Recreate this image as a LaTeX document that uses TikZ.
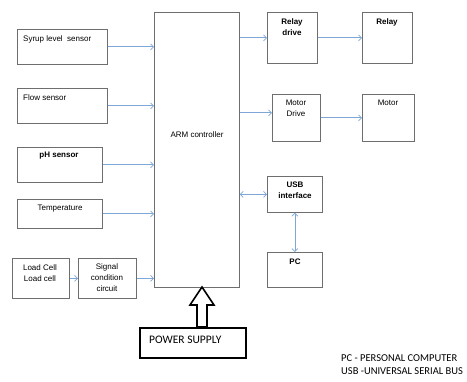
\documentclass[tikz,border=0pt]{standalone}
\usepackage{fontspec}
\setmainfont{Liberation Sans}
\newfontfamily\calfont{Carlito}
\usetikzlibrary{arrows.meta}

\definecolor{boxgray}{HTML}{6E6E6E}
\definecolor{arrowblue}{HTML}{7EA6D6}

\begin{document}
\begin{tikzpicture}[
        x=1pt, y=-1pt,
        box/.style={rectangle, draw=boxgray, line width=0.7pt, anchor=north west, inner sep=0pt},
        txt/.style={font=\fontsize{8}{11}\selectfont, inner sep=0pt, align=center},
        btxt/.style={txt, font=\fontsize{8}{11}\selectfont\bfseries},
        arrow/.style={-{Straight Barb[length=3pt, width=6pt]}, draw=arrowblue, line width=0.7pt},
        twoway/.style={{Straight Barb[length=3pt, width=6pt]}-{Straight Barb[length=3pt, width=6pt]}, draw=arrowblue, line width=0.7pt},
        legend/.style={font=\calfont\fontsize{10.5}{12}\selectfont, inner sep=0pt, anchor=west}
    ]
    \useasboundingbox (0,0) rectangle (467,382);

    % Nodes
    \node[box, minimum width=90pt, minimum height=35pt] (syrup) at (17,29) {};
    \node[box, minimum width=90pt, minimum height=35pt] (flow) at (17,88) {};
    \node[box, minimum width=85pt, minimum height=35pt] (ph) at (17,147) {};
    \node[box, minimum width=85pt, minimum height=29pt] (temp) at (17,199) {};
    \node[box, minimum width=57pt, minimum height=40pt] (load) at (12,258) {};
    \node[box, minimum width=58pt, minimum height=40pt] (signal) at (78,258) {};
    \node[box, minimum width=85pt, minimum height=275pt] (arm) at (154,12) {};
    \node[box, draw=black, line width=1.6pt, minimum width=106pt, minimum height=30pt] (power) at (139,327) {};

    \node[box, minimum width=50pt, minimum height=51pt] (relaydrive) at (267,12) {};
    \node[box, minimum width=50pt, minimum height=51pt] (relay) at (362,12) {};
    \node[box, minimum width=48pt, minimum height=47pt] (motordrive) at (272,94) {};
    \node[box, minimum width=52pt, minimum height=47pt] (motor) at (362,94) {};
    \node[box, minimum width=55pt, minimum height=36pt] (usb) at (267,176) {};
    \node[box, minimum width=55pt, minimum height=35pt] (pc) at (267,252) {};

    % Labels
    \node[txt, anchor=west] (syrup-t) at (23,39) {Syrup level\ \ sensor};
    \node[txt, anchor=west] (flow-t) at (23,98) {Flow sensor};
    \node[btxt] (ph-t) at (59,156) {pH sensor};
    \node[txt] (temp-t) at (60,209) {Temperature};
    \node[txt] (load-t) at (40,273) {Load Cell\\Load cell};
    \node[txt] (signal-t) at (107,278) {Signal\\condition\\circuit};
    \node[txt] (arm-t) at (197,135) {ARM controller};
    \node[btxt] (relaydrive-t) at (292,27.5) {Relay\\drive};
    \node[btxt] (relay-t) at (387,22) {Relay};
    \node[txt] (motordrive-t) at (296,108.5) {Motor\\Drive};
    \node[txt] (motor-t) at (388,103) {Motor};
    \node[btxt] (usb-t) at (295,190) {USB\\interface};
    \node[btxt] (pc-t) at (295,262) {PC};
    \node[legend, font=\calfont\fontsize{11.5}{13}\selectfont] (power-t) at (149,340) {POWER SUPPLY};

    \node[legend] (leg-pc) at (341,358) {PC - PERSONAL COMPUTER};
    \node[legend] (leg-usb) at (341,371) {USB -UNIVERSAL SERIAL BUS};

    % Arrows
    \draw[arrow] (syrup.east) -- (syrup.east -| arm.west);
    \draw[arrow] (flow.east) -- (flow.east -| arm.west);
    \draw[arrow] (ph.east) -- (ph.east -| arm.west);
    \draw[arrow] (temp.east) -- (temp.east -| arm.west);
    \draw[arrow] (load) -- (signal);
    \draw[arrow] (signal.east) -- (signal.east -| arm.west);
    \draw[arrow] (relaydrive.west -| arm.east) -- (relaydrive.west);
    \draw[arrow] (relaydrive) -- (relay);
    \draw[arrow] ([yshift=5pt]motordrive.west -| arm.east) -- ([yshift=5pt]motordrive.west);
    \draw[arrow] (motordrive) -- (motordrive -| motor.west);
    \draw[twoway] (usb.west -| arm.east) -- (usb.west);
    \draw[twoway] (usb) -- (pc);

    % power arrow
    \coordinate (tip) at (202,287);
    \draw[black, line width=1.6pt, line join=miter] (tip) -- ++(12,18) -- ++(-7,0) -- ++(0,22) -- ++(-10,0)
        -- ++(0,-22) -- ++(-7,0) -- cycle;
\end{tikzpicture}
\end{document}
